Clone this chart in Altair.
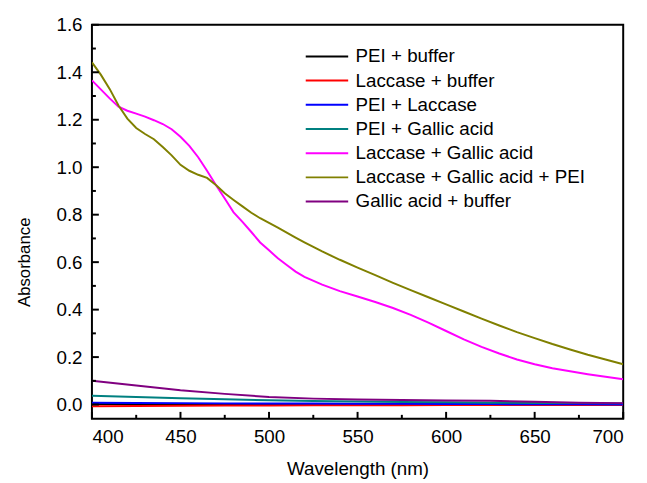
import altair as alt
import pandas as pd

# ---------------- data ----------------
WL_FINE = [400, 405, 410, 415, 420, 425, 430, 435, 440, 445, 450, 455, 460, 465,
           470, 475, 480, 485, 490, 495, 500, 505, 510, 515, 520,
           530, 540, 550, 560, 570, 580, 590, 600, 610, 620, 630, 640, 650,
           660, 670, 680, 690, 700]

LAC_GA = [1.366, 1.328, 1.290, 1.255, 1.238, 1.226, 1.213, 1.198, 1.182, 1.160,
          1.128, 1.090, 1.042, 0.985, 0.925, 0.868, 0.810, 0.770, 0.727, 0.683,
          0.650, 0.616, 0.588, 0.560, 0.538,
          0.505, 0.478, 0.455, 0.432, 0.407, 0.378, 0.345, 0.310, 0.275, 0.243,
          0.215, 0.190, 0.170, 0.153, 0.140, 0.128, 0.117, 0.107]

LAC_GA_PEI = [1.442, 1.390, 1.330, 1.260, 1.205, 1.165, 1.140, 1.118, 1.085, 1.050,
              1.010, 0.985, 0.968, 0.955, 0.925, 0.890, 0.862, 0.835, 0.808, 0.785,
              0.765, 0.745, 0.724, 0.703, 0.683,
              0.645, 0.610, 0.577, 0.545, 0.513, 0.482, 0.452, 0.422, 0.392, 0.362,
              0.333, 0.305, 0.280, 0.255, 0.232, 0.210, 0.190, 0.170]

WL_COARSE = [400, 425, 450, 475, 500, 525, 550, 575, 600, 625, 650, 675, 700]

PEI_BUF = [0.002, 0.002, 0.002, 0.002, 0.002, 0.002, 0.002, 0.002, 0.002, 0.002, 0.002, 0.002, 0.002]
LAC_BUF = [-0.007, -0.006, -0.005, -0.004, -0.004, -0.003, -0.003, -0.003, -0.002, -0.002, -0.002, -0.002, -0.002]
PEI_LAC = [0.008, 0.007, 0.006, 0.005, 0.004, 0.004, 0.003, 0.003, 0.002, 0.002, 0.001, 0.001, 0.000]
PEI_GA = [0.037, 0.032, 0.027, 0.022, 0.018, 0.015, 0.013, 0.011, 0.010, 0.008, 0.007, 0.006, 0.005]
GA_BUF = [0.100, 0.080, 0.060, 0.045, 0.032, 0.025, 0.021, 0.019, 0.017, 0.016, 0.012, 0.008, 0.006]

SERIES = ["PEI + buffer", "Laccase + buffer", "PEI + Laccase", "PEI + Gallic acid",
          "Laccase + Gallic acid", "Laccase + Gallic acid + PEI", "Gallic acid + buffer"]
COLORS = ["#000000", "#FF0000", "#0000FF", "#008080", "#FF00FF", "#808000", "#800080"]

Y_TICKS = [0.0, 0.2, 0.4, 0.6, 0.8, 1.0, 1.2, 1.4, 1.6]
Y_MINOR = [0.1, 0.3, 0.5, 0.7, 0.9, 1.1, 1.3, 1.5]
X_TICKS = [400, 450, 500, 550, 600, 650, 700]
X_MINOR = [425, 475, 525, 575, 625, 675]

# ---------------- table ----------------
series_data = {
    "PEI + buffer": (WL_COARSE, PEI_BUF),
    "Laccase + buffer": (WL_COARSE, LAC_BUF),
    "PEI + Laccase": (WL_COARSE, PEI_LAC),
    "PEI + Gallic acid": (WL_COARSE, PEI_GA),
    "Laccase + Gallic acid": (WL_FINE, LAC_GA),
    "Laccase + Gallic acid + PEI": (WL_FINE, LAC_GA_PEI),
    "Gallic acid + buffer": (WL_COARSE, GA_BUF),
}
rows = []
for i, name in enumerate(SERIES):
    xs, ys = series_data[name]
    for x, y in zip(xs, ys):
        rows.append({"wl": x, "abs": y, "series": name, "order": i})
df = pd.DataFrame(rows)

W, H = 538, 399
FONT = "Liberation Sans"
FS = 19

xscale = alt.Scale(domain=[400, 700], nice=False, zero=False)
yscale = alt.Scale(domain=[-0.06, 1.6], nice=False, zero=False)

xaxis = alt.Axis(values=X_TICKS, tickSize=0, domain=False, grid=False,
                 labelFontSize=FS, labelPadding=9, titleFontSize=FS,
                 titleFontWeight="normal", titleBaseline="alphabetic",
                 titleY=56, labelFont=FONT, titleFont=FONT, labelColor="black",
                 titleColor="black")
yaxis = alt.Axis(values=Y_TICKS, format=".1f", tickSize=0, domain=False,
                 grid=False, labelFontSize=FS, labelPadding=10, titleFontSize=17,
                 titleFontWeight="normal", titleBaseline="alphabetic",
                 titleX=-63, titleY=240, titleAlign="center", titleAngle=270,
                 labelFont=FONT, titleFont=FONT, labelColor="black",
                 titleColor="black")
XT = "Wavelength (nm)"
YT = "Absorbance"

lines = alt.Chart(df).mark_line(strokeWidth=2, clip=True).encode(
    x=alt.X("wl:Q", scale=xscale, axis=xaxis, title=XT),
    y=alt.Y("abs:Q", scale=yscale, axis=yaxis, title=YT),
    color=alt.Color("series:N", scale=alt.Scale(domain=SERIES, range=COLORS),
                    legend=alt.Legend(orient="none", legendX=226, legendY=20,
                                      title=None, symbolType="M-2,0H2",
                                      symbolStrokeWidth=2, symbolSize=462,
                                      labelFontSize=FS, labelFont=FONT,
                                      labelColor="black", labelOffset=17,
                                      labelLimit=0, rowPadding=2.5, padding=0)),
    order=alt.Order("order:Q"),
    detail="series:N",
)

ymaj = alt.Chart(pd.DataFrame({"abs": Y_TICKS})).mark_rule(color="black", strokeWidth=2).encode(
    y=alt.Y("abs:Q", scale=yscale, axis=yaxis, title=YT), x=alt.value(0), x2=alt.value(7))
ymin = alt.Chart(pd.DataFrame({"abs": Y_MINOR})).mark_rule(color="black", strokeWidth=2).encode(
    y=alt.Y("abs:Q", scale=yscale, axis=yaxis, title=YT), x=alt.value(0), x2=alt.value(4))
xmaj = alt.Chart(pd.DataFrame({"wl": X_TICKS})).mark_rule(color="black", strokeWidth=2).encode(
    x=alt.X("wl:Q", scale=xscale, axis=xaxis, title=XT), y=alt.value(H), y2=alt.value(H - 7))
xmin = alt.Chart(pd.DataFrame({"wl": X_MINOR})).mark_rule(color="black", strokeWidth=2).encode(
    x=alt.X("wl:Q", scale=xscale, axis=xaxis, title=XT), y=alt.value(H), y2=alt.value(H - 4))

chart = alt.layer(lines, ymaj, ymin, xmaj, xmin).properties(
    width=W, height=H,
    autosize=alt.AutoSizeParams(type="none"),
    padding={"left": 85, "top": 14, "right": 16, "bottom": 62},
    background="white",
).configure_view(stroke="black", strokeWidth=2)

chart.save("out.html", embed_options={"renderer": "svg", "actions": False})
